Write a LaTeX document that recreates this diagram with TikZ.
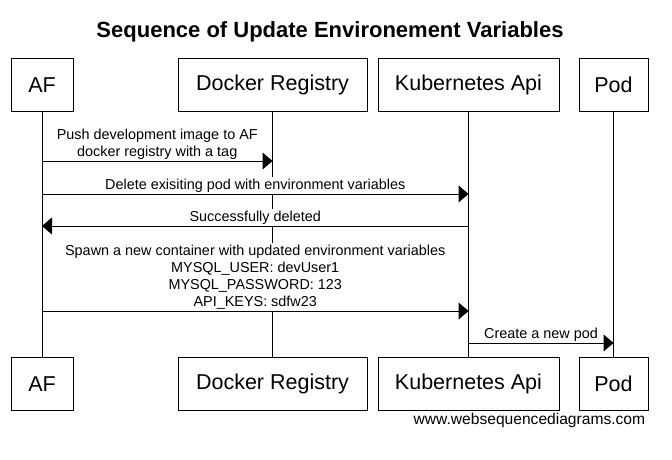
\documentclass[tikz,border=0pt]{standalone}
\usepackage{fontspec}
\setmainfont{Liberation Sans}
\usetikzlibrary{arrows.meta,positioning}

\begin{document}
\begin{tikzpicture}[x=1pt, y=-1pt, line width=1pt,
    actor/.style={draw, minimum height=53pt, inner sep=0pt,
      font=\fontsize{21.5}{24}\selectfont},
    msg/.style={-{Triangle[length=10pt,width=17pt]}},
    lbl/.style={fill=white, inner sep=1.5pt, align=center, anchor=south,
      font=\fontsize{14.4}{17}\selectfont}]
  \useasboundingbox (0,0) rectangle (672,460);
  \node[font=\bfseries\fontsize{22}{24}\selectfont] (title) at (330,32)
    {Sequence of Update Environement Variables};%
  % participants, top and bottom
  \node[actor, minimum width=62pt]  (af)    at (42,85)    {AF};%
  \node[actor, minimum width=189pt] (reg)   at (272.5,85) {Docker Registry};%
  \node[actor, minimum width=181pt] (kube)  at (468.5,85) {Kubernetes Api};%
  \node[actor, minimum width=69pt]  (pod)   at (613.5,85) {Pod};%
  \node[actor, minimum width=62pt]  (af2)   at (42,384)    {AF};%
  \node[actor, minimum width=189pt] (reg2)  at (272.5,384) {Docker Registry};%
  \node[actor, minimum width=181pt] (kube2) at (468.5,384) {Kubernetes Api};%
  \node[actor, minimum width=69pt]  (pod2)  at (613.5,384) {Pod};%
  \foreach \p in {af,reg,kube,pod}
    \draw (\p) -- (\p2);
  % message levels
  \coordinate (m1) at (0,161);
  \coordinate (m2) at (0,194);
  \coordinate (m3) at (0,226);
  \coordinate (m4) at (0,311);
  \coordinate (m5) at (0,343);
  % labels first, so that they hide the lifelines
  \path (af |- m1) -- (reg |- m1) node[lbl, midway]
    {Push development image to AF\\docker registry with a tag};%
  \path (af |- m2) -- (kube |- m2) node[lbl, midway]
    {Delete exisiting pod with environment variables};%
  \path (kube |- m3) -- (af |- m3) node[lbl, midway] {Successfully deleted};%
  \path (af |- m4) -- (kube |- m4) node[lbl, midway]
    {Spawn a new container with updated environment variables\\
     MYSQL\_USER: devUser1\\MYSQL\_PASSWORD: 123\\API\_KEYS: sdfw23};%
  \path (kube |- m5) -- (pod |- m5) node[lbl, midway] {Create a new pod};%
  % messages
  \draw[msg] (af |- m1) -- (reg |- m1);
  \draw[msg] (af |- m2) -- (kube |- m2);
  \draw[msg] (kube |- m3) -- (af |- m3);
  \draw[msg] (af |- m4) -- (kube |- m4);
  \draw[msg] (kube |- m5) -- (pod |- m5);
  \node[anchor=east, font=\fontsize{15.6}{18}\selectfont] (wsd) at (649,420)
    {www.websequencediagrams.com};%
\end{tikzpicture}
\end{document}
